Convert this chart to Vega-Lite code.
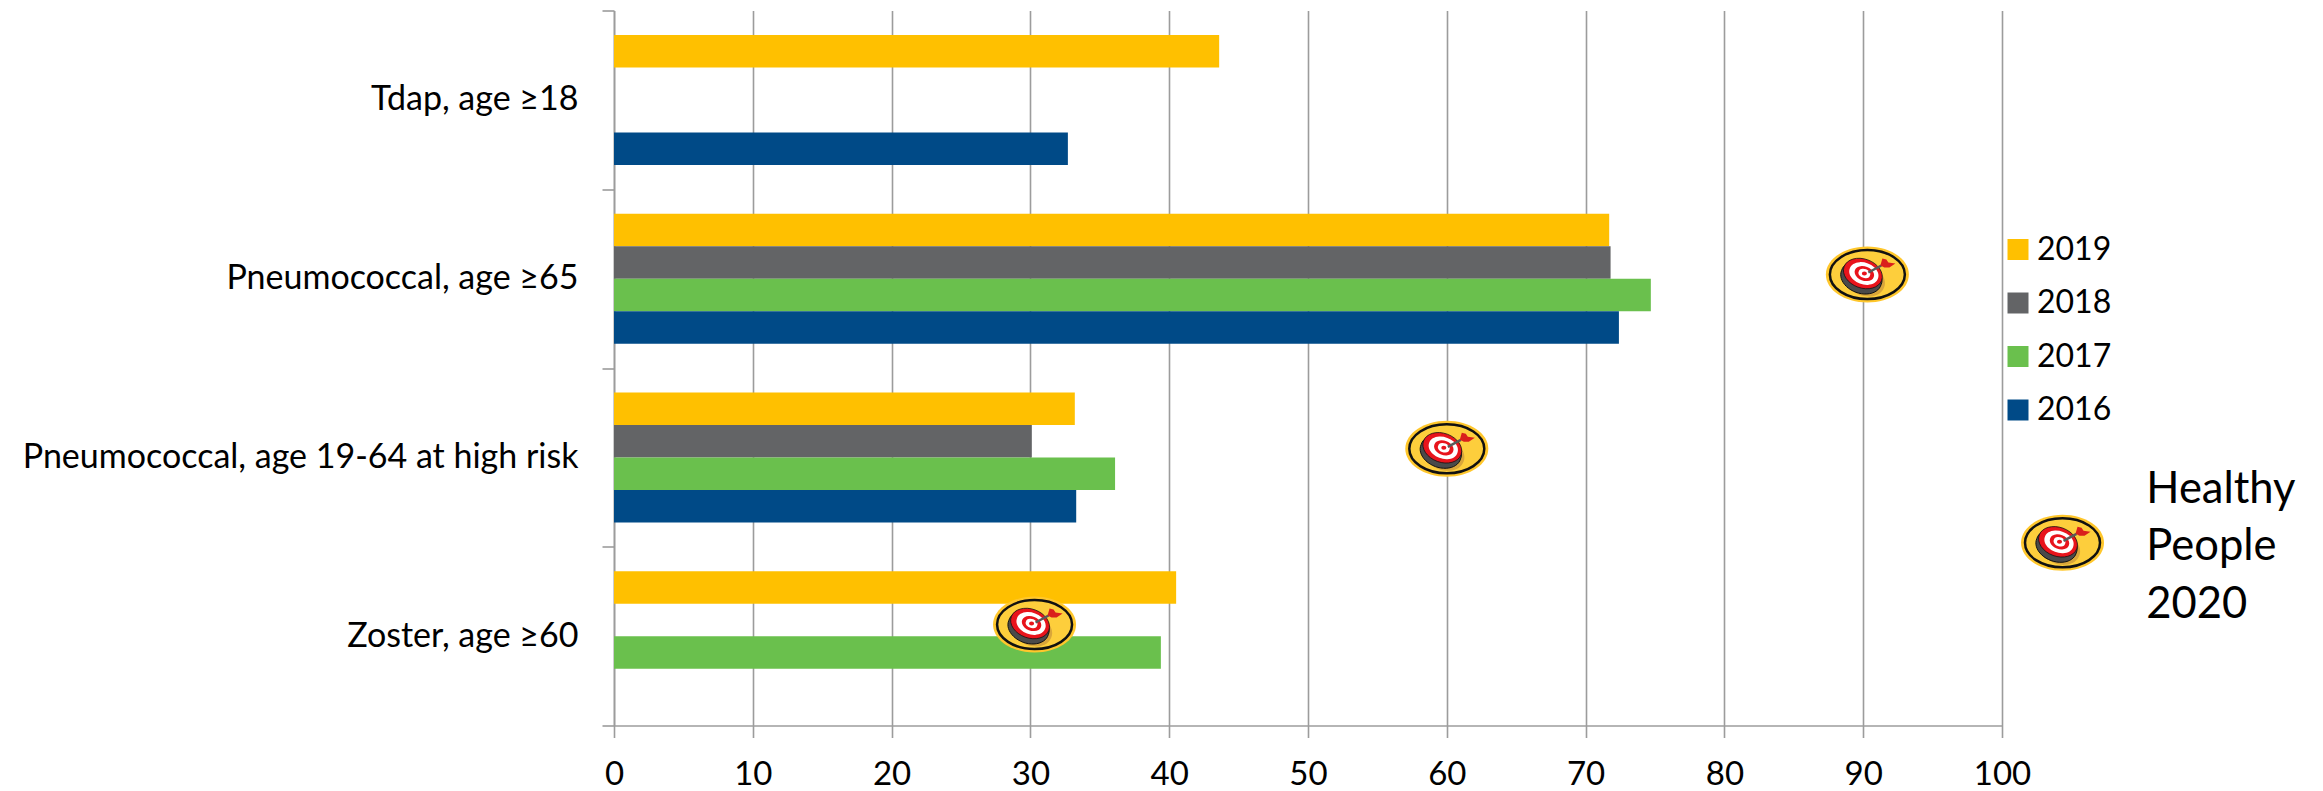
{
  "$schema": "https://vega.github.io/schema/vega-lite/v6.json",
  "width": 1388,
  "height": 715,
  "autosize": {"type": "none"},
  "padding": {"left": 614, "top": 10.5, "right": 321, "bottom": 65.5},
  "background": "white",
  "config": {"font": "Lato", "view": {"stroke": null}},
  "datasets": {
    "coverage": [
      {"vaccine": "Tdap, age ≥18", "year": "2019", "percent": 43.6},
      {"vaccine": "Tdap, age ≥18", "year": "2016", "percent": 32.7},
      {"vaccine": "Pneumococcal, age ≥65", "year": "2019", "percent": 71.7},
      {"vaccine": "Pneumococcal, age ≥65", "year": "2018", "percent": 71.8},
      {"vaccine": "Pneumococcal, age ≥65", "year": "2017", "percent": 74.7},
      {"vaccine": "Pneumococcal, age ≥65", "year": "2016", "percent": 72.4},
      {"vaccine": "Pneumococcal, age 19-64 at high risk", "year": "2019", "percent": 33.2},
      {"vaccine": "Pneumococcal, age 19-64 at high risk", "year": "2018", "percent": 30.1},
      {"vaccine": "Pneumococcal, age 19-64 at high risk", "year": "2017", "percent": 36.1},
      {"vaccine": "Pneumococcal, age 19-64 at high risk", "year": "2016", "percent": 33.3},
      {"vaccine": "Zoster, age ≥60", "year": "2019", "percent": 40.5},
      {"vaccine": "Zoster, age ≥60", "year": "2017", "percent": 39.4}
    ],
    "targets": [
      {"name": "Pneumococcal, age ≥65", "percent": 90.3, "row": 1.477},
      {"name": "Pneumococcal, age 19-64 at high risk", "percent": 60, "row": 2.452},
      {"name": "Zoster, age ≥60", "percent": 30.3, "row": 3.435},
      {"name": "key", "percent": 104.36, "row": 2.978}
    ],
    "caption": [
      {"percent": 110.4, "row": 2.68, "label": "Healthy\nPeople\n2020"}
    ]
  },
  "layer": [
    {
      "data": {"name": "coverage"},
      "mark": {"type": "bar", "cornerRadius": 0},
      "encoding": {
        "x": {
          "field": "percent",
          "type": "quantitative",
          "scale": {"domain": [0, 100], "nice": false},
          "axis": {
            "title": null,
            "values": [0, 10, 20, 30, 40, 50, 60, 70, 80, 90, 100],
            "grid": true,
            "gridColor": "#9C9C9C",
            "gridWidth": 1.6,
            "domainColor": "#9C9C9C",
            "domainWidth": 1.6,
            "tickColor": "#9C9C9C",
            "tickWidth": 1.6,
            "tickSize": 12,
            "labelFont": "Lato",
            "labelFontSize": 33,
            "labelColor": "#000000",
            "labelPadding": 21,
            "labelFlush": false,
            "labelOverlap": false
          }
        },
        "y": {
          "field": "vaccine",
          "type": "nominal",
          "sort": ["Tdap, age ≥18", "Pneumococcal, age ≥65", "Pneumococcal, age 19-64 at high risk", "Zoster, age ≥60"],
          "scale": {"paddingInner": 0, "paddingOuter": 0},
          "axis": {
            "title": null,
            "grid": false,
            "tickBand": "extent",
            "domainColor": "#9C9C9C",
            "domainWidth": 1.6,
            "tickColor": "#9C9C9C",
            "tickWidth": 1.6,
            "tickSize": 12,
            "labelFont": "Lato",
            "labelFontSize": 34,
            "labelColor": "#000000",
            "labelPadding": 24,
            "labelLimit": 700
          }
        },
        "yOffset": {
          "field": "year",
          "type": "nominal",
          "sort": ["2019", "2018", "2017", "2016"],
          "scale": {"domain": ["2019", "2018", "2017", "2016"], "paddingInner": 0, "paddingOuter": 0.75}
        },
        "color": {
          "field": "year",
          "type": "nominal",
          "scale": {"domain": ["2019", "2018", "2017", "2016"], "range": ["#FFC000", "#636466", "#6AC04D", "#004A87"]},
          "legend": {
            "orient": "none",
            "legendX": 1388,
            "legendY": 223,
            "title": null,
            "padding": 0,
            "symbolType": "square",
            "symbolSize": 441,
            "symbolStrokeWidth": 0,
            "labelFont": "Lato",
            "labelFontSize": 32,
            "labelColor": "#000000",
            "labelOffset": 3,
            "rowPadding": 21.5
          }
        }
      }
    },
    {
      "data": {"name": "targets"},
      "encoding": {
        "x": {"field": "percent", "type": "quantitative"},
        "y": {
          "field": "row",
          "type": "quantitative",
          "scale": {"domain": [0, 4], "reverse": true, "nice": false, "zero": false},
          "axis": null
        }
      },
      "layer": [
        {"mark": {"type": "point", "filled": true, "opacity": 1, "size": 4, "fill": "#FFC72C", "shape": "M-41.5,0 A41.5,28 0 1,1 41.5,0 A41.5,28 0 1,1 -41.5,0 Z"}},
        {"mark": {"type": "point", "filled": true, "opacity": 1, "size": 4, "fill": "#FDCE3C", "stroke": "#111111", "strokeWidth": 2.5, "shape": "M-37.5,0 A37.5,24.5 0 1,1 37.5,0 A37.5,24.5 0 1,1 -37.5,0 Z"}},
        {"mark": {"type": "point", "filled": true, "opacity": 1, "size": 4, "fill": "#D9A63A", "shape": "M-20.8,-0.8 A20,15 20 1,1 16.8,12.8 A20,15 20 1,1 -20.8,-0.8 Z"}},
        {"mark": {"type": "point", "filled": true, "opacity": 1, "size": 4, "fill": "#4A4A4A", "stroke": "#111111", "strokeWidth": 1, "shape": "M-25.7,-4.2 A21,15 20 1,1 13.7,10.2 A21,15 20 1,1 -25.7,-4.2 Z"}},
        {"mark": {"type": "point", "filled": true, "opacity": 1, "size": 4, "fill": "#E8141C", "stroke": "#111111", "strokeWidth": 0.8, "shape": "M-23.3,-7.84 A20,14.5 20 1,1 14.3,5.84 A20,14.5 20 1,1 -23.3,-7.84 Z"}},
        {"mark": {"type": "point", "filled": true, "opacity": 1, "size": 4, "fill": "#FFFFFF", "shape": "M-17.6,-6.1 A15,10.5 20 1,1 10.6,4.1 A15,10.5 20 1,1 -17.6,-6.1 Z"}},
        {"mark": {"type": "point", "filled": true, "opacity": 1, "size": 4, "fill": "#E8141C", "shape": "M-12.4,-4.4 A10,7 20 1,1 6.4,2.4 A10,7 20 1,1 -12.4,-4.4 Z"}},
        {"mark": {"type": "point", "filled": true, "opacity": 1, "size": 4, "fill": "#FFFFFF", "shape": "M-8.6,-3 A6,4 20 1,1 2.6,1 A6,4 20 1,1 -8.6,-3 Z"}},
        {"mark": {"type": "point", "filled": true, "opacity": 1, "size": 4, "fill": "#E8141C", "shape": "M-5.5,-1 A2.5,2 0 1,1 -0.5,-1 A2.5,2 0 1,1 -5.5,-1 Z"}},
        {"mark": {"type": "point", "filled": false, "opacity": 1, "size": 4, "stroke": "#5A5A5A", "strokeWidth": 2.5, "shape": "M1,-2 L14,-9"}},
        {"mark": {"type": "point", "filled": true, "opacity": 1, "size": 4, "fill": "#D9201C", "shape": "M13,-9 L15,-16 L19,-15 L21,-12 L28,-11 L22,-7 L17,-7 Z"}}
      ]
    },
    {
      "data": {"name": "caption"},
      "mark": {"type": "text", "align": "left", "baseline": "middle", "font": "Lato", "fontSize": 43.5, "lineHeight": 57.5, "lineBreak": "\n", "color": "#000000"},
      "encoding": {
        "x": {"field": "percent", "type": "quantitative"},
        "y": {
          "field": "row",
          "type": "quantitative",
          "scale": {"domain": [0, 4], "reverse": true, "nice": false, "zero": false},
          "axis": null
        },
        "text": {"field": "label"}
      }
    }
  ],
  "resolve": {"scale": {"y": "independent"}}
}
